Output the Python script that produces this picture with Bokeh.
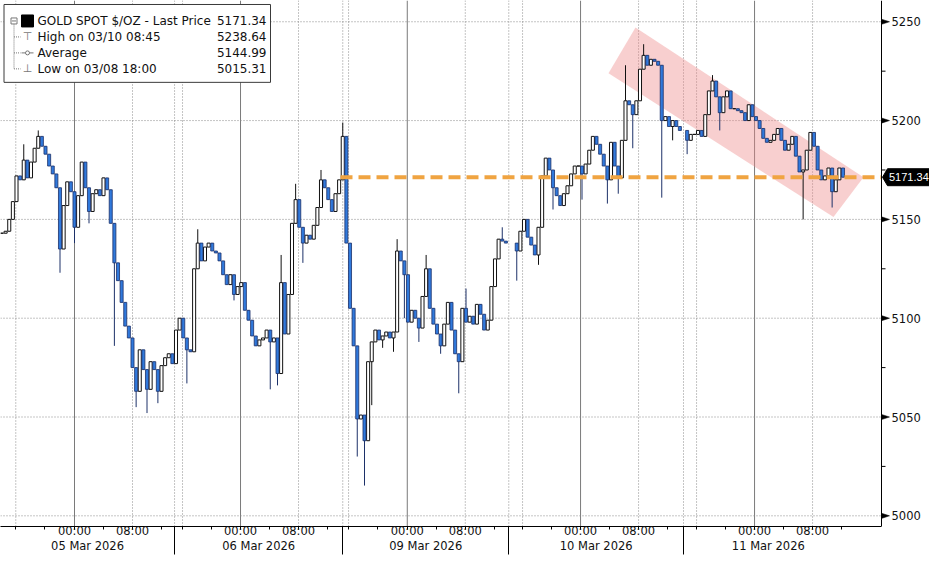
from bokeh.plotting import figure
from bokeh.models import Span, FixedTicker, ColumnDataSource, Range1d, LinearAxis
from bokeh.core.properties import value
from bokeh.embed import file_html
from bokeh.resources import INLINE

FONT = "DejaVu Sans"

# ---------------- data ----------------
session_names = ["05 Mar 2026", "06 Mar 2026", "09 Mar 2026", "10 Mar 2026", "11 Mar 2026"]
# time of first 30-min bar of each block, in hours on the chart's trading-time axis (05 Mar 00:00 = 0)
session_start_h = [-10.0, 14.0, 37.0, 61.0, 84.5]
bar_hours = 0.5

close_mar05 = [5143, 5144, 5150, 5159, 5172, 5170, 5180, 5171, 5179, 5186, 5192, 5187,
               5183, 5177, 5173, 5166, 5135, 5157, 5169, 5164, 5146, 5162, 5179, 5166,
               5154, 5163, 5165, 5162, 5171, 5165, 5148, 5128, 5119, 5108, 5096, 5090,
               5075, 5063, 5084, 5074, 5064, 5078, 5074, 5063, 5076, 5080, 5082, 5077]
close_mar06 = [5094, 5100, 5090, 5084, 5083, 5125, 5138, 5129, 5136, 5138, 5134, 5133,
               5129, 5122, 5117, 5122, 5112, 5116, 5118, 5104, 5099, 5091, 5086, 5089,
               5090, 5094, 5088, 5090, 5072, 5118, 5092, 5112, 5148, 5160, 5146, 5138,
               5142, 5140, 5147, 5156, 5170, 5166, 5160, 5154, 5163, 5170]
close_mar09 = [5192, 5138, 5105, 5086, 5049, 5051, 5038, 5078, 5088, 5094, 5089, 5091,
               5093, 5090, 5093, 5134, 5129, 5122, 5098, 5104, 5100, 5095, 5111, 5125,
               5105, 5097, 5092, 5086, 5097, 5108, 5094, 5082, 5078, 5105, 5098, 5101,
               5097, 5107, 5102, 5094, 5099, 5116, 5130, 5140, 5139, 5138]
close_mar10 = [5134, 5144, 5150, 5141, 5137, 5132, 5146, 5172, 5181, 5175, 5166, 5162,
               5157, 5163, 5167, 5173, 5177, 5177, 5173, 5178, 5185, 5192, 5188, 5183,
               5177, 5170, 5189, 5177, 5171, 5190, 5210, 5208, 5203, 5210, 5226, 5233,
               5228, 5231, 5230, 5228, 5200, 5202, 5197, 5200, 5197, 5195]
close_mar11 = [5190, 5193, 5193, 5195, 5192, 5203, 5215, 5220, 5212, 5204, 5212, 5215,
               5206, 5206, 5205, 5204, 5200, 5208, 5202, 5200, 5196, 5191, 5189, 5190,
               5193, 5196, 5190, 5185, 5188, 5192, 5182, 5174, 5175, 5185, 5194, 5187,
               5175, 5170, 5172, 5176, 5164, 5170, 5176, 5171.34]

# notable wick extremes, keyed by bar time (hours)
wick_high = {-7.0: 5188, -5.0: 5195, 17.0: 5145, 28.5: 5132, 30.5: 5168, 34.0: 5175,
             37.0: 5199, 44.5: 5140, 48.5: 5132, 54.0: 5115, 59.0: 5146,
             76.0: 5228, 78.5: 5238.64, 88.0: 5223}
wick_low = {-2.0: 5123, 0.0: 5138, 2.0: 5148, 5.5: 5086, 8.5: 5055, 10.0: 5052, 11.5: 5057,
            15.5: 5067, 22.0: 5109, 27.0: 5064, 28.0: 5066, 31.5: 5128,
            39.0: 5030, 40.0: 5015.31, 41.0: 5056, 42.5: 5085, 44.0: 5083, 45.5: 5100,
            47.5: 5088, 50.5: 5082, 53.0: 5062,
            61.0: 5119, 64.0: 5127, 66.0: 5155, 70.0: 5160, 73.5: 5158, 75.0: 5163,
            77.0: 5186, 81.0: 5161, 82.5: 5190,
            84.5: 5183, 89.0: 5195, 100.5: 5150, 104.5: 5156}

legend_labels = ["GOLD SPOT $/OZ - Last Price", "High on 03/10 08:45", "Average", "Low on 03/08 18:00"]
legend_values = ["5171.34", "5238.64", "5144.99", "5015.31"]
last_price = 5171.34

price_ticks = [5000, 5050, 5100, 5150, 5200, 5250]
price_minor = [5025, 5075, 5125, 5175, 5225]

# time axis (hours on the trading-time axis)
midnight_h = [0.0, 22.9, 45.9, 69.8, 93.8]
eight_h = [8.0, 30.9, 53.9, 77.8, 101.8]
sixteen_h = [-8.1, 14.9, 37.8, 61.8, 85.8]
separator_h = [13.8, 37.0, 59.9, 84.0]
section_edges_h = [-10.2, 13.8, 37.0, 59.9, 84.0, 107.4]
time_labels = ["00:00", "08:00"]


# ---------------- helpers: picture pixel -> data coordinates ----------------
PX_H = 7.25    # pixels per hour
PX_P = 1.98    # pixels per dollar


def sx(px):
    return (px - 74.0) / PX_H


def sy(py):
    return 5150.0 - (py - 219.3) / PX_P


W, H = 929, 555
PLOT_R = 881          # right edge of the price pane
FRAME_B = 527         # bottom of the frame
X0, X1 = sx(0), sx(W)
Y0, Y1 = sy(FRAME_B), sy(0)
XR = sx(PLOT_R)

# ---------------- build candles ----------------
sessions = [close_mar05, close_mar06, close_mar09, close_mar10, close_mar11]
rows = []
prev = None
for start, closes in zip(session_start_h, sessions):
    for k, cl in enumerate(closes):
        tt = round(start + k * bar_hours, 2)
        op = cl if prev is None else prev
        hi = max(op, cl, wick_high.get(tt, cl))
        lo = min(op, cl, wick_low.get(tt, cl))
        rows.append((tt, op, hi, lo, cl))
        prev = cl


def make_src(sel):
    return ColumnDataSource(dict(
        t=[r[0] for r in sel],
        high=[r[2] for r in sel],
        low=[r[3] for r in sel],
        top=[max(r[1], r[4]) for r in sel],
        bottom=[min(r[1], r[4]) for r in sel],
    ))


up_src = make_src([r for r in rows if r[4] >= r[1]])
dn_src = make_src([r for r in rows if r[4] < r[1]])

# ---------------- figure ----------------
p = figure(width=W, height=H, output_backend="svg", toolbar_location=None,
           x_range=Range1d(X0, X1), y_range=Range1d(Y0, Y1),
           min_border_left=0, min_border_top=0, min_border_right=0, min_border_bottom=0,
           background_fill_color="white", border_fill_color="white")
p.outline_line_color = None
p.xgrid.visible = False
p.ygrid.visible = False
p.yaxis.visible = False

# ---- x axes: first one carries session separators + 4-hour ticks, second one the labels ----
minor_x = []
for d in midnight_h:
    minor_x += [d, d + 4, d + 8, d + 12]
for s in sixteen_h:
    minor_x += [s, s + 4]
minor_x = sorted(v for v in minor_x if X0 < v < XR)

xax = p.xaxis[0]
xax.bounds = (X0, XR)
xax.ticker = FixedTicker(ticks=separator_h, minor_ticks=minor_x)
xax.major_label_overrides = {s: "" for s in separator_h}
xax.major_label_text_font_size = "0px"
xax.major_label_standoff = 0
xax.axis_line_color = "black"
xax.major_tick_out = 28
xax.major_tick_in = 0
xax.minor_tick_out = 3
xax.minor_tick_in = 0
xax.major_tick_line_color = "black"
xax.minor_tick_line_color = "black"

date_centers = [round((section_edges_h[k] + section_edges_h[k + 1]) / 2, 2)
                for k in range(len(session_names))]
label_over = {}
for v in midnight_h:
    label_over[v] = time_labels[0]
for v in eight_h:
    label_over[v] = time_labels[1]
for c, n in zip(date_centers, session_names):
    label_over[c] = "\n" + n
lax = LinearAxis(ticker=FixedTicker(ticks=midnight_h + eight_h + date_centers, minor_ticks=[]),
                 major_label_overrides=label_over,
                 axis_line_color=None, major_tick_out=0, major_tick_in=0,
                 minor_tick_out=0, minor_tick_in=0,
                 major_label_text_font=FONT, major_label_text_font_size="11.5px",
                 major_label_text_line_height=1.1,
                 major_label_text_color="#111111", major_label_standoff=-31)
p.add_layout(lax, "below")

# ---- grid ----
GRID = "#8a8a8a"
p.segment(x0=[X0] * len(price_ticks), y0=price_ticks, x1=[XR] * len(price_ticks), y1=price_ticks,
          line_color=GRID, line_width=1, line_dash="1 2")
for v in midnight_h:
    p.add_layout(Span(location=v, dimension="height", line_color="#7a7a7a", line_width=1,
                      level="underlay"))
for v in eight_h + sixteen_h + separator_h:
    p.add_layout(Span(location=v, dimension="height", line_color=GRID, line_width=1,
                      line_dash="1 2", level="underlay"))

# ---- descending channel ----
chan_px = [(608, 73), (635, 27), (863, 177), (833, 217)]
p.patch(x=[sx(a) for a, b in chan_px], y=[sy(b) for a, b in chan_px],
        fill_color="#ee8888", fill_alpha=0.4, line_color=None)

# ---- candles ----
UP_LINE = "#111111"
DN_FILL = "#3079dc"
DN_LINE = "#1c3068"
BODY_W = 0.42
p.segment(x0="t", y0="high", x1="t", y1="low", source=up_src, line_color=UP_LINE, line_width=1)
p.segment(x0="t", y0="high", x1="t", y1="low", source=dn_src, line_color=DN_LINE, line_width=1)
p.vbar(x="t", width=BODY_W, top="top", bottom="bottom", source=up_src,
       fill_color="white", line_color=UP_LINE, line_width=1)
p.vbar(x="t", width=BODY_W, top="top", bottom="bottom", source=dn_src,
       fill_color=DN_FILL, line_color=DN_LINE, line_width=0.8)

# ---- last price dashed line ----
p.line(x=[sx(340), XR], y=[last_price, last_price], line_color="#f0a441",
       line_width=4, line_dash="12 6", line_cap="butt")

# ---- price scale on the right (drawn with the same scales) ----
p.segment(x0=[XR], y0=[Y0], x1=[XR], y1=[Y1], line_color="black", line_width=1)
p.segment(x0=[XR] * len(price_minor), y0=price_minor, x1=[sx(PLOT_R + 4)] * len(price_minor),
          y1=price_minor, line_color="black", line_width=1)
tri_x, tri_y = [], []
for v in price_ticks:
    tri_x.append([XR, sx(PLOT_R + 8), XR])
    tri_y.append([v + 2.6 / PX_P, v, v - 2.6 / PX_P])
p.patches(xs=tri_x, ys=tri_y, fill_color="black", line_color="black", line_width=0.5)
p.text(x=[sx(891)] * len(price_ticks), y=price_ticks, text=[str(v) for v in price_ticks],
       text_font=value(FONT), text_font_size="11.5px", text_color="#111111",
       text_align="left", text_baseline="middle")
# last price tag
tag_px = [(882, 0.0), (887, -8.5), (W, -8.5), (W, 8.5), (887, 8.5)]
p.patch(x=[sx(a) for a, b in tag_px], y=[last_price - b / PX_P for a, b in tag_px],
        fill_color="black", line_color="black")
p.text(x=[sx(888.5)], y=[last_price], text=[f"{last_price:.2f}"],
       text_font=value("Liberation Sans"), text_font_size="11px", text_color="white",
       text_align="left", text_baseline="middle")

# ---------------- legend (glyphs inside the frame) ----------------
LG = "#777777"
p.quad(left=[sx(3.5)], right=[sx(270)], top=[sy(4)], bottom=[sy(82)],
       fill_color="white", line_color="#3a3a3a", line_width=1)
row_y = [20.5, 36.5, 52.5, 68.5]
# tree
p.segment(x0=[sx(13.5)], y0=[sy(24)], x1=[sx(13.5)], y1=[sy(row_y[3])],
          line_color=LG, line_dash="1 1", line_width=1)
p.segment(x0=[sx(13.5)] * 3, y0=[sy(r) for r in row_y[1:]], x1=[sx(20)] * 3,
          y1=[sy(r) for r in row_y[1:]], line_color=LG, line_dash="1 1", line_width=1)
# collapse box
p.quad(left=[sx(10.5)], right=[sx(16.5)], top=[sy(17.5)], bottom=[sy(23.5)],
       fill_color="white", line_color=LG, line_width=1)
p.segment(x0=[sx(11.5)], y0=[sy(20.5)], x1=[sx(15.5)], y1=[sy(20.5)], line_color=LG, line_width=1)
# series square
p.quad(left=[sx(21)], right=[sx(33)], top=[sy(14.5)], bottom=[sy(26.5)],
       fill_color="black", line_color="black")
# high / low icons
p.text(x=[sx(27), sx(27)], y=[sy(row_y[1]), sy(row_y[3])], text=["\u22a4", "\u22a5"],
       text_font=value(FONT), text_font_size="11px", text_color=LG,
       text_align="center", text_baseline="middle")
# average icon
p.segment(x0=[sx(21)], y0=[sy(row_y[2])], x1=[sx(33)], y1=[sy(row_y[2])], line_color=LG, line_width=1)
p.scatter(x=[sx(27)], y=[sy(row_y[2])], size=4, marker="circle", fill_color="white",
          line_color=LG, line_width=1)
# texts
p.text(x=[sx(37)] * 4, y=[sy(r) for r in row_y], text=legend_labels,
       text_font=value(FONT), text_font_size="12px", text_color="#111111",
       text_align="left", text_baseline="middle")
p.text(x=[sx(266)] * 4, y=[sy(r) for r in row_y], text=legend_values,
       text_font=value(FONT), text_font_size="12px", text_color="#111111",
       text_align="right", text_baseline="middle")

open("out.html", "w").write(file_html(p, INLINE))
